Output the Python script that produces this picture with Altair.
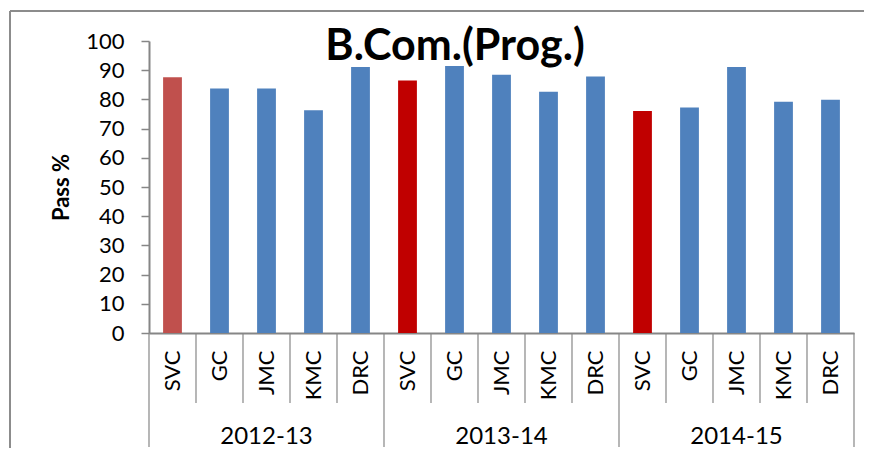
import altair as alt
import pandas as pd

years = ["2012-13", "2013-14", "2014-15"]
colleges = ["SVC", "GC", "JMC", "KMC", "DRC"]
pass_2012 = [87.6, 83.7, 83.7, 76.3, 91.1]
pass_2013 = [86.5, 91.4, 88.4, 82.6, 87.8]
pass_2014 = [76.0, 77.2, 91.1, 79.2, 79.9]
all_values = [pass_2012, pass_2013, pass_2014]
title_text = "B.Com.(Prog.)"

keys, yr, col, val, grp = [], [], [], [], []
for yi, y in enumerate(years):
    for ci, c in enumerate(colleges):
        keys.append(f"{y}|{c}")
        yr.append(y)
        col.append(c)
        val.append(all_values[yi][ci])
        if c == "SVC":
            grp.append("first" if yi == 0 else "svc")
        else:
            grp.append("other")
df = pd.DataFrame({"key": keys, "year": yr, "college": col, "value": val, "grp": grp})

W, H = 705, 292
GRAY = "#868686"
FONT = "Lato"
PAD_IN = 0.6
HALF_GAP = (W / len(keys)) * PAD_IN / 2

x_scale = alt.Scale(domain=keys, paddingInner=PAD_IN, paddingOuter=PAD_IN / 2)
x_axis = alt.Axis(
    title=None, labelExpr="split(datum.value, '|')[1]", labelAngle=270,
    labelAlign="right", labelBaseline="middle",
    labelFont=FONT, labelFontSize=22, labelColor="black", labelPadding=17,
    ticks=False, domainColor=GRAY, domainWidth=2, grid=False,
)


def X(**kw):
    return alt.X("key:N", scale=x_scale, axis=x_axis, **kw)


bars = alt.Chart(df).mark_bar().encode(
    x=X(),
    y=alt.Y(
        "value:Q",
        scale=alt.Scale(domain=[0, 100], nice=False),
        axis=alt.Axis(
            title="Pass %", values=list(range(0, 101, 10)), grid=False,
            labelFont=FONT, labelFontSize=22, labelColor="black", labelPadding=17,
            tickSize=8, tickColor=GRAY, tickWidth=1.5, domainColor=GRAY, domainWidth=2,
            titleFont=FONT, titleFontSize=22, titleFontWeight="bold", titleColor="black",
            titleAngle=270, titleX=-88, titleY=H / 2, titleAlign="center",
            titleBaseline="middle",
        ),
    ),
    color=alt.Color(
        "grp:N",
        scale=alt.Scale(domain=["first", "svc", "other"],
                        range=["#C0504D", "#C00000", "#4F81BD"]),
        legend=None,
    ),
)

inner = df[df["college"] != "SVC"][["key"]]
inner_rules = alt.Chart(inner).mark_rule(
    color=GRAY, strokeWidth=1.2, xOffset=-HALF_GAP
).encode(x=X(bandPosition=0), y=alt.value(H), y2=alt.value(H + 70))

grp_start = df[df["college"] == "SVC"][["key"]]
grp_rules = alt.Chart(grp_start).mark_rule(
    color=GRAY, strokeWidth=1.2, xOffset=-HALF_GAP
).encode(x=X(bandPosition=0), y=alt.value(H), y2=alt.value(H + 114))
end_rule = alt.Chart(df.tail(1)[["key"]]).mark_rule(
    color=GRAY, strokeWidth=1.2, xOffset=HALF_GAP
).encode(x=X(bandPosition=1), y=alt.value(H), y2=alt.value(H + 114))

lab = pd.DataFrame({"key": [f"{y}|JMC" for y in years], "label": years})
group_labels = alt.Chart(lab).mark_text(
    font=FONT, fontSize=24, color="black", baseline="middle", align="center"
).encode(x=X(), y=alt.value(H + 104), text="label:N")

one = pd.DataFrame({"a": [0]})
frame_left = alt.Chart(one).mark_rule(color="#8C8C8C", strokeWidth=2).encode(
    x=alt.value(-139), x2=alt.value(-139), y=alt.value(-30), y2=alt.value(H + 115)
)
frame_top = alt.Chart(one).mark_rule(color="#8C8C8C", strokeWidth=2).encode(
    x=alt.value(-139), x2=alt.value(W + 20), y=alt.value(-30), y2=alt.value(-30)
)

title_df = pd.DataFrame({"t": [title_text]})
title_mark = alt.Chart(title_df).mark_text(
    font=FONT, fontSize=43, fontWeight="bold", color="black",
    align="center", baseline="alphabetic",
).encode(x=alt.value(306), y=alt.value(19), text="t:N")

chart = alt.layer(
    frame_left, frame_top, inner_rules, grp_rules, end_rule, bars, group_labels,
    title_mark,
).properties(
    width=W, height=H,
    padding={"left": 141, "top": 33, "right": 10, "bottom": 115},
    autosize=alt.AutoSizeParams(type="none"),
).configure_view(stroke=None)

chart.save("out.html", embed_options={"renderer": "svg", "actions": False})
